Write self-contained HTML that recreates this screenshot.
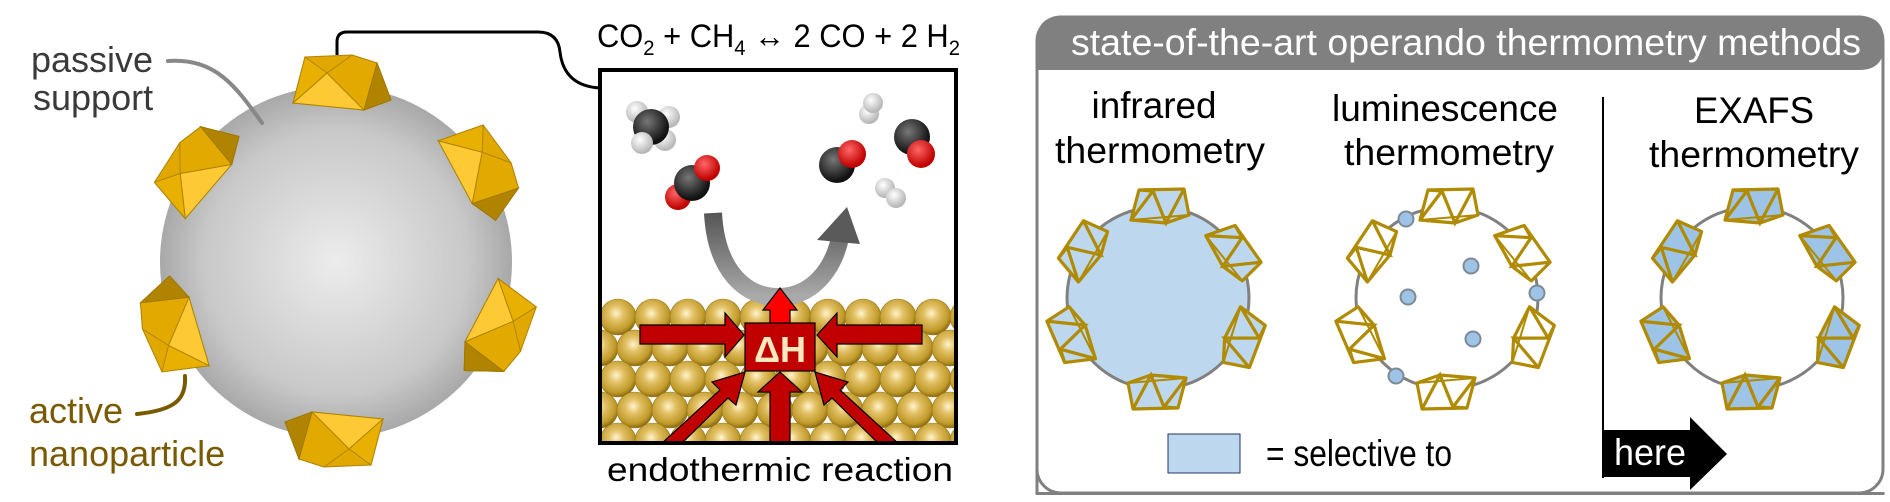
<!DOCTYPE html>
<html><head><meta charset="utf-8"><style>
html,body{margin:0;padding:0;background:#fff;width:1890px;height:502px;overflow:hidden}
svg{display:block}
text{font-family:"Liberation Sans",Arial,sans-serif}
</style></head><body>
<svg width="1890" height="502" viewBox="0 0 1890 502" xmlns="http://www.w3.org/2000/svg">
<defs>
<radialGradient id="sph" cx="0.5" cy="0.5" r="0.5">
<stop offset="0" stop-color="#ececec"/><stop offset="0.75" stop-color="#c8c8c8"/><stop offset="1" stop-color="#a8a8a8"/>
</radialGradient>
<radialGradient id="gold" cx="0.45" cy="0.4" r="0.6">
<stop offset="0" stop-color="#fff4cc"/><stop offset="0.35" stop-color="#e2c065"/><stop offset="0.8" stop-color="#c09a2a"/><stop offset="1" stop-color="#8a6a10"/>
</radialGradient>
<radialGradient id="cb" cx="0.4" cy="0.35" r="0.6"><stop offset="0" stop-color="#777"/><stop offset="1" stop-color="#111"/></radialGradient>
<radialGradient id="ob" cx="0.4" cy="0.35" r="0.6"><stop offset="0" stop-color="#ff6666"/><stop offset="1" stop-color="#c00000"/></radialGradient>
<radialGradient id="hb" cx="0.4" cy="0.35" r="0.6"><stop offset="0" stop-color="#ffffff"/><stop offset="1" stop-color="#b8b8b8"/></radialGradient>
<linearGradient id="ga" x1="0" y1="0" x2="0" y2="1"><stop offset="0" stop-color="#555"/><stop offset="1" stop-color="#aaa"/></linearGradient>
<clipPath id="bx"><rect x="602" y="72" width="352" height="369"/></clipPath>
<g id="oct">
<polygon points="-47,21 -35,-25 12,-27 37,-19 51,18 24,28" fill="#e0a800" stroke="#b08400" stroke-width="1"/>
<polygon points="-47,21 -13,-9 24,28" fill="#fdca35" stroke="#b08400" stroke-width="1"/>
<polygon points="-35,-25 -13,-9 -47,21" fill="#e8b000" stroke="#b08400" stroke-width="1"/>
<polygon points="37,-19 51,18 24,28 -13,-9 12,-27" fill="#e2a900" stroke="#b08400" stroke-width="1"/>
<polygon points="37,-19 51,18 24,28" fill="#b08400" stroke="#a07800" stroke-width="1"/>
</g>
<g id="so">
<polygon points="-28,14 -20,-16 25,-17 30,9 7,17" stroke="#b08a00" stroke-width="3.2" stroke-linejoin="round"/>
<polyline points="-28,14 -6,-15 7,17 25,-17" fill="none" stroke="#b08a00" stroke-width="3.2"/>
<line x1="-20" y1="-16" x2="-6" y2="-15" stroke="#b08a00" stroke-width="3.2"/>
<line x1="-28" y1="14" x2="30" y2="9" stroke="#b08a00" stroke-width="2"/>
</g>
</defs>

<!-- LEFT: sphere -->
<circle cx="336" cy="262" r="176" fill="url(#sph)"/>
<g transform="translate(340,82)"><use href="#oct"/></g>
<g transform="translate(195,168) rotate(-55)"><use href="#oct"/></g>
<g transform="translate(482,168) rotate(56)"><use href="#oct"/></g>
<g transform="translate(172,330) rotate(-112)"><use href="#oct"/></g>
<g transform="translate(500,330) rotate(112)"><use href="#oct"/></g>
<g transform="translate(336,440) rotate(180)"><use href="#oct"/></g>
<path d="M168 61 C215 58 235 85 262 123" fill="none" stroke="#888" stroke-width="4" stroke-linecap="round"/>
<text x="31" y="72" font-size="36" fill="#3a3a3a">passive</text>
<text x="33" y="110" font-size="36" fill="#3a3a3a">support</text>
<path d="M137 414 C175 410 186 400 185 376" fill="none" stroke="#7a5a00" stroke-width="4" stroke-linecap="round"/>
<text x="29" y="423" font-size="36" fill="#7a5a00">active</text>
<text x="29" y="466" font-size="36" fill="#7a5a00">nanoparticle</text>
<!-- connector -->
<path d="M337 55 V42 Q337 32 347 32 H538 Q558 32 560 52 Q564 86 600 88" fill="none" stroke="#000" stroke-width="3"/>

<!-- MIDDLE -->
<text x="597" y="47" font-size="32" fill="#000" textLength="363" lengthAdjust="spacingAndGlyphs">CO<tspan font-size="21" dy="8">2</tspan><tspan dy="-8"> + CH</tspan><tspan font-size="21" dy="8">4</tspan><tspan dy="-8"> ↔ 2 CO + 2 H</tspan><tspan font-size="21" dy="8">2</tspan></text>
<g clip-path="url(#bx)">
<g fill="url(#gold)" stroke="#9a7a20" stroke-width="0.6">
<circle cx="618" cy="317" r="18"/><circle cx="653" cy="317" r="18"/><circle cx="688" cy="317" r="18"/><circle cx="723" cy="317" r="18"/><circle cx="758" cy="317" r="18"/><circle cx="793" cy="317" r="18"/><circle cx="828" cy="317" r="18"/><circle cx="863" cy="317" r="18"/><circle cx="898" cy="317" r="18"/><circle cx="933" cy="317" r="18"/><circle cx="968" cy="317" r="18"/>
<circle cx="600" cy="348" r="18"/><circle cx="635" cy="348" r="18"/><circle cx="670" cy="348" r="18"/><circle cx="705" cy="348" r="18"/><circle cx="740" cy="348" r="18"/><circle cx="775" cy="348" r="18"/><circle cx="810" cy="348" r="18"/><circle cx="845" cy="348" r="18"/><circle cx="880" cy="348" r="18"/><circle cx="915" cy="348" r="18"/><circle cx="950" cy="348" r="18"/>
<circle cx="618" cy="379" r="18"/><circle cx="653" cy="379" r="18"/><circle cx="688" cy="379" r="18"/><circle cx="723" cy="379" r="18"/><circle cx="758" cy="379" r="18"/><circle cx="793" cy="379" r="18"/><circle cx="828" cy="379" r="18"/><circle cx="863" cy="379" r="18"/><circle cx="898" cy="379" r="18"/><circle cx="933" cy="379" r="18"/><circle cx="968" cy="379" r="18"/>
<circle cx="600" cy="410" r="18"/><circle cx="635" cy="410" r="18"/><circle cx="670" cy="410" r="18"/><circle cx="705" cy="410" r="18"/><circle cx="740" cy="410" r="18"/><circle cx="775" cy="410" r="18"/><circle cx="810" cy="410" r="18"/><circle cx="845" cy="410" r="18"/><circle cx="880" cy="410" r="18"/><circle cx="915" cy="410" r="18"/><circle cx="950" cy="410" r="18"/>
<circle cx="618" cy="441" r="18"/><circle cx="653" cy="441" r="18"/><circle cx="688" cy="441" r="18"/><circle cx="723" cy="441" r="18"/><circle cx="758" cy="441" r="18"/><circle cx="793" cy="441" r="18"/><circle cx="828" cy="441" r="18"/><circle cx="863" cy="441" r="18"/><circle cx="898" cy="441" r="18"/><circle cx="933" cy="441" r="18"/><circle cx="968" cy="441" r="18"/>
</g>
<!-- gray curved arrow -->
<path d="M713 213 C716 270 745 298 780 297 C812 296 833 270 840 238" fill="none" stroke="url(#ga)" stroke-width="18"/>
<polygon points="847,207 817,240 860,244" fill="#5a5a5a"/>
<!-- red arrows -->
<g stroke="#000" stroke-width="1.2" stroke-linejoin="miter">
<polygon points="640,325 725,325 725,313 744,335 725,357 725,344 640,344" fill="#c00000"/>
<polygon points="922,325 837,325 837,313 817,335 837,357 837,344 922,344" fill="#c00000"/>
<polygon points="770,445 770,392 758,392 780,372 802,392 790,392 790,445" fill="#c00000"/>
<polygon points="660,445 720,390 712,382 745,372 736,405 728,398 680,445" fill="#c00000"/>
<polygon points="900,445 840,390 848,382 815,372 824,405 832,398 880,445" fill="#c00000"/>
<polygon points="770,323 770,310 763,310 780,288 797,310 790,310 790,323" fill="#ff0000"/>
<rect x="745" y="323" width="70" height="48" fill="#c00000"/>
</g>
<text x="780" y="362" font-size="36" font-weight="bold" fill="#fde9c0" text-anchor="middle">ΔH</text>
<!-- molecules -->
<circle cx="637" cy="112" r="11" fill="url(#hb)"/><circle cx="669" cy="117" r="11" fill="url(#hb)"/>
<circle cx="665" cy="140" r="11" fill="url(#hb)"/>
<circle cx="651" cy="127" r="18" fill="url(#cb)"/>
<circle cx="642" cy="143" r="11" fill="url(#hb)"/>
<circle cx="678" cy="197" r="13" fill="url(#ob)"/>
<circle cx="692" cy="183" r="18" fill="url(#cb)"/>
<circle cx="707" cy="168" r="13" fill="url(#ob)"/>
<circle cx="837" cy="165" r="18" fill="url(#cb)"/><circle cx="852" cy="154" r="14" fill="url(#ob)"/>
<circle cx="912" cy="137" r="18" fill="url(#cb)"/><circle cx="921" cy="154" r="14" fill="url(#ob)"/>
<circle cx="869" cy="114" r="10" fill="url(#hb)"/><circle cx="873" cy="103" r="10" fill="url(#hb)"/>
<circle cx="885" cy="188" r="10" fill="url(#hb)"/><circle cx="896" cy="198" r="10" fill="url(#hb)"/>
</g>
<rect x="600" y="70" width="356" height="373" fill="none" stroke="#000" stroke-width="4"/>
<text x="780" y="481" font-size="33" fill="#000" text-anchor="middle" textLength="346" lengthAdjust="spacingAndGlyphs">endothermic reaction</text>

<!-- RIGHT PANEL -->
<rect x="1037" y="17" width="846" height="476" fill="#fff" stroke="#808080" stroke-width="3" rx="24"/>
<rect x="1035.5" y="40" width="3" height="453" fill="#808080"/>
<rect x="1035.5" y="492" width="849" height="3" fill="#808080"/>
<path d="M1037 70 V41 Q1037 16 1062 16 H1859 Q1884 16 1884 41 V45 Q1884 70 1859 70 Z" fill="#808080"/>
<text x="1466" y="55" font-size="37" fill="#fff" text-anchor="middle" textLength="790" lengthAdjust="spacingAndGlyphs">state-of-the-art operando thermometry methods</text>

<g font-size="37" fill="#000" text-anchor="middle">
<text x="1154" y="118" textLength="125" lengthAdjust="spacingAndGlyphs">infrared</text>
<text x="1160" y="163" textLength="210" lengthAdjust="spacingAndGlyphs">thermometry</text>
<text x="1445" y="121" textLength="226" lengthAdjust="spacingAndGlyphs">luminescence</text>
<text x="1449" y="165" textLength="210" lengthAdjust="spacingAndGlyphs">thermometry</text>
<text x="1754" y="123" textLength="120" lengthAdjust="spacingAndGlyphs">EXAFS</text>
<text x="1754" y="167" textLength="210" lengthAdjust="spacingAndGlyphs">thermometry</text>
</g>
<line x1="1603" y1="97" x2="1603" y2="478" stroke="#000" stroke-width="2"/>
<polygon points="1602,430 1690,430 1690,417 1727,454 1690,490 1690,477 1602,477" fill="#000"/>
<text x="1614" y="465" font-size="37" fill="#fff" textLength="72" lengthAdjust="spacingAndGlyphs">here</text>

<rect x="1168" y="434" width="72" height="39" fill="#bdd7ee" stroke="#1f3864" stroke-width="1"/>
<text x="1266" y="466" font-size="37" fill="#000" textLength="186" lengthAdjust="spacingAndGlyphs">= selective to</text>

<!-- circle 1 -->
<circle cx="1158" cy="298" r="91" fill="#bdd7ee" stroke="#808080" stroke-width="3"/>
<g fill="#bdd7ee">
<g transform="translate(1159,206)"><use href="#so"/></g>
<g transform="translate(1083,251) rotate(-55)"><use href="#so"/></g>
<g transform="translate(1233,251) rotate(56)"><use href="#so"/></g>
<g transform="translate(1072,338) rotate(-112)"><use href="#so"/></g>
<g transform="translate(1243,338) rotate(112)"><use href="#so"/></g>
<g transform="translate(1158,392) rotate(180)"><use href="#so"/></g>
</g>
<!-- circle 2 -->
<circle cx="1447" cy="298" r="91" fill="#fff" stroke="#808080" stroke-width="3"/>
<g fill="#fff">
<g transform="translate(1448,206)"><use href="#so"/></g>
<g transform="translate(1372,251) rotate(-55)"><use href="#so"/></g>
<g transform="translate(1522,251) rotate(56)"><use href="#so"/></g>
<g transform="translate(1361,338) rotate(-112)"><use href="#so"/></g>
<g transform="translate(1532,338) rotate(112)"><use href="#so"/></g>
<g transform="translate(1447,392) rotate(180)"><use href="#so"/></g>
</g>
<g fill="#9dc3e6" stroke="#7f8a95" stroke-width="2">
<circle cx="1406" cy="219" r="7.5"/><circle cx="1471" cy="266" r="7.5"/><circle cx="1408" cy="297" r="7.5"/>
<circle cx="1537" cy="293" r="7.5"/><circle cx="1473" cy="339" r="7.5"/><circle cx="1396" cy="376" r="7.5"/>
</g>
<!-- circle 3 -->
<circle cx="1752" cy="298" r="91" fill="#fff" stroke="#808080" stroke-width="3"/>
<g fill="#9dc3e6">
<g transform="translate(1753,206)"><use href="#so"/></g>
<g transform="translate(1677,251) rotate(-55)"><use href="#so"/></g>
<g transform="translate(1827,251) rotate(56)"><use href="#so"/></g>
<g transform="translate(1666,338) rotate(-112)"><use href="#so"/></g>
<g transform="translate(1837,338) rotate(112)"><use href="#so"/></g>
<g transform="translate(1752,392) rotate(180)"><use href="#so"/></g>
</g>
</svg>
</body></html>
